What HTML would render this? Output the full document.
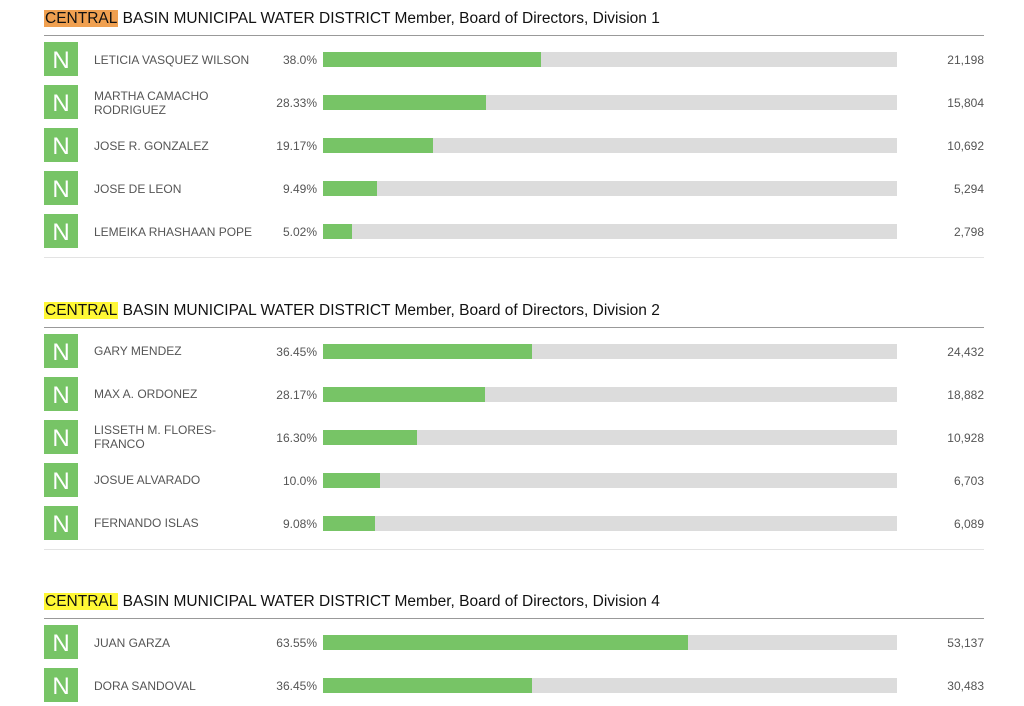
<!DOCTYPE html>
<html><head><meta charset="utf-8"><style>
html,body{margin:0;width:1024px;height:706px;background:#fff;font-family:"Liberation Sans",Arial,sans-serif;overflow:hidden;position:relative}
.sec{position:absolute;left:0;width:1024px;height:260px}
.t{position:absolute;left:44px;top:10px;font-size:15.5px;line-height:18px;color:#111;white-space:nowrap}
.t span{padding:0 1px}
.hl{position:absolute;left:44px;width:940px;top:35px;height:1px;background:#999}
.bl{position:absolute;left:44px;width:940px;top:257px;height:1px;background:#e3e3e3}
.r{position:absolute;left:0;width:1024px;height:43px}
.n{position:absolute;left:44px;top:4px;width:34px;height:34px;background:#77c466;color:#fff;font-size:24px;line-height:38px;text-align:center}
.nm{position:absolute;left:94px;top:0;height:43px;width:170px;display:flex;align-items:center;font-size:12px;line-height:14px;color:#555}
.p{position:absolute;right:707px;top:15px;font-size:12px;line-height:14px;color:#555}
.bg{position:absolute;left:323px;width:574px;top:14px;height:15px;background:#dcdcdc}
.fg{height:15px;background:#77c466}
.v{position:absolute;right:40px;top:15px;font-size:12px;line-height:14px;color:#555}
</style></head><body>

<div class="sec" style="top:0">
<div class="t"><span style="background:#f0a050">CENTRAL</span> BASIN MUNICIPAL WATER DISTRICT Member, Board of Directors, Division 1</div>
<div class="hl"></div>
<div class="r" style="top:38px"><div class="n">N</div><div class="nm">LETICIA VASQUEZ WILSON</div><div class="p">38.0%</div><div class="bg"><div class="fg" style="width:38%"></div></div><div class="v">21,198</div></div>
<div class="r" style="top:81px"><div class="n">N</div><div class="nm">MARTHA CAMACHO RODRIGUEZ</div><div class="p">28.33%</div><div class="bg"><div class="fg" style="width:28.33%"></div></div><div class="v">15,804</div></div>
<div class="r" style="top:124px"><div class="n">N</div><div class="nm">JOSE R. GONZALEZ</div><div class="p">19.17%</div><div class="bg"><div class="fg" style="width:19.17%"></div></div><div class="v">10,692</div></div>
<div class="r" style="top:167px"><div class="n">N</div><div class="nm">JOSE DE LEON</div><div class="p">9.49%</div><div class="bg"><div class="fg" style="width:9.49%"></div></div><div class="v">5,294</div></div>
<div class="r" style="top:210px"><div class="n">N</div><div class="nm">LEMEIKA RHASHAAN POPE</div><div class="p">5.02%</div><div class="bg"><div class="fg" style="width:5.02%"></div></div><div class="v">2,798</div></div>
<div class="bl"></div>
</div>

<div class="sec" style="top:291.5px">
<div class="t"><span style="background:#fff835">CENTRAL</span> BASIN MUNICIPAL WATER DISTRICT Member, Board of Directors, Division 2</div>
<div class="hl"></div>
<div class="r" style="top:38px"><div class="n">N</div><div class="nm">GARY MENDEZ</div><div class="p">36.45%</div><div class="bg"><div class="fg" style="width:36.45%"></div></div><div class="v">24,432</div></div>
<div class="r" style="top:81px"><div class="n">N</div><div class="nm">MAX A. ORDONEZ</div><div class="p">28.17%</div><div class="bg"><div class="fg" style="width:28.17%"></div></div><div class="v">18,882</div></div>
<div class="r" style="top:124px"><div class="n">N</div><div class="nm" style="width:140px">LISSETH M. FLORES-FRANCO</div><div class="p">16.30%</div><div class="bg"><div class="fg" style="width:16.3%"></div></div><div class="v">10,928</div></div>
<div class="r" style="top:167px"><div class="n">N</div><div class="nm">JOSUE ALVARADO</div><div class="p">10.0%</div><div class="bg"><div class="fg" style="width:10%"></div></div><div class="v">6,703</div></div>
<div class="r" style="top:210px"><div class="n">N</div><div class="nm">FERNANDO ISLAS</div><div class="p">9.08%</div><div class="bg"><div class="fg" style="width:9.08%"></div></div><div class="v">6,089</div></div>
<div class="bl"></div>
</div>

<div class="sec" style="top:583px;height:123px;overflow:hidden">
<div class="t"><span style="background:#fff835">CENTRAL</span> BASIN MUNICIPAL WATER DISTRICT Member, Board of Directors, Division 4</div>
<div class="hl"></div>
<div class="r" style="top:38px"><div class="n">N</div><div class="nm">JUAN GARZA</div><div class="p">63.55%</div><div class="bg"><div class="fg" style="width:63.55%"></div></div><div class="v">53,137</div></div>
<div class="r" style="top:81px"><div class="n">N</div><div class="nm">DORA SANDOVAL</div><div class="p">36.45%</div><div class="bg"><div class="fg" style="width:36.45%"></div></div><div class="v">30,483</div></div>
</div>

</body></html>
